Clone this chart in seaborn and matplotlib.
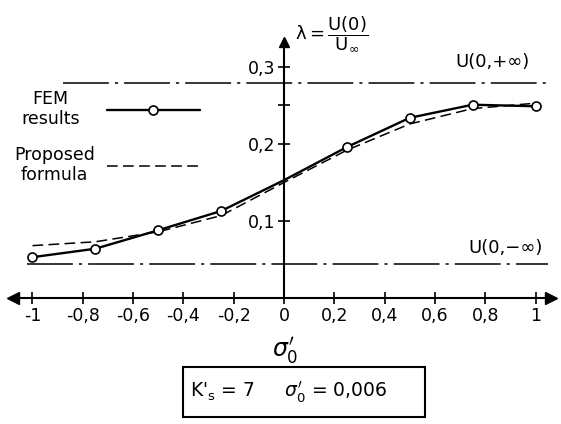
import matplotlib
matplotlib.use("Agg")
import matplotlib.pyplot as plt
from matplotlib.lines import Line2D
from matplotlib.patches import Rectangle
import pandas as pd
import seaborn as sns

# sigma'_0 along the x axis
sigma0 = [-1.0, -0.75, -0.5, -0.25, 0.0, 0.25, 0.5, 0.75, 1.0]
# lambda = U(0) / U_inf
fem_results = [0.053, 0.064, 0.088, 0.113, 0.153, 0.196, 0.234, 0.251, 0.249]
proposed_formula = [0.068, 0.073, 0.086, 0.107, 0.150, 0.192, 0.226, 0.246, 0.253]
# FEM points that carry a circle (none at sigma'_0 = 0)
fem_marked = [0, 1, 2, 3, 5, 6, 7, 8]

# asymptotic levels
u_plus_inf = 0.279
u_minus_inf = 0.044

x_ticks = [-1.0, -0.8, -0.6, -0.4, -0.2, 0.0, 0.2, 0.4, 0.6, 0.8, 1.0]
x_tick_labels = ["-1", "-0,8", "-0,6", "-0,4", "-0,2", "0", "0,2", "0,4", "0,6", "0,8", "1"]
y_ticks = [0.1, 0.2, 0.3]
y_tick_labels = ["0,1", "0,2", "0,3"]
y_minor_ticks = [0.25]

W, H = 561, 424  # figure size in pixels


def main():
    sns.set_style("white")
    plt.rcParams["font.family"] = ["DejaVu Sans"]
    plt.rcParams["mathtext.fontset"] = "dejavusans"
    plt.rcParams["axes.edgecolor"] = "black"
    plt.rcParams["xtick.color"] = "black"
    plt.rcParams["ytick.color"] = "black"
    plt.rcParams["text.color"] = "black"

    df = pd.DataFrame({
        "sigma0": sigma0,
        "FEM results": fem_results,
        "Proposed formula": proposed_formula,
    })

    fig = plt.figure(figsize=(W / 100, H / 100), dpi=100)
    ax = fig.add_axes([0.0131, 0.1882, 0.9863, 0.7991])
    ax.set_xlim(-1.1, 1.1)
    ax.set_ylim(-0.06, 0.38)

    # asymptotes
    dashdot = (0, (30, 4, 2, 4))
    ax.hlines(u_plus_inf, -0.88, 1.04, colors="black", linewidth=1.1, linestyles=[dashdot])
    ax.hlines(u_minus_inf, -1.02, 1.05, colors="black", linewidth=1.1, linestyles=[dashdot])

    sns.lineplot(data=df, x="sigma0", y="Proposed formula", ax=ax, color="black",
                 linewidth=1.1, linestyle=(0, (7, 3.5)), errorbar=None)
    sns.lineplot(data=df, x="sigma0", y="FEM results", ax=ax, color="black",
                 linewidth=1.7, marker="o", markevery=fem_marked, markersize=6.5,
                 markerfacecolor="white", markeredgecolor="black",
                 markeredgewidth=1.2, errorbar=None)
    ax.set_xlabel("")
    ax.set_ylabel("")

    # axes through the origin with arrows
    ax.spines["top"].set_visible(False)
    ax.spines["right"].set_visible(False)
    ax.spines["bottom"].set_position(("data", 0))
    ax.spines["left"].set_position(("data", 0))
    ax.spines["bottom"].set_bounds(-1.075, 1.06)
    ax.spines["left"].set_bounds(0, 0.33)
    ax.spines["bottom"].set_linewidth(1.5)
    ax.spines["left"].set_linewidth(1.5)
    ax.plot([1.062], [0], marker=">", color="black", markersize=8, clip_on=False)
    ax.plot([-1.078], [0], marker="<", color="black", markersize=8, clip_on=False)
    ax.plot([0], [0.333], marker="^", color="black", markersize=7, clip_on=False)

    ax.set_xticks(x_ticks, x_tick_labels)
    ax.set_yticks(y_ticks, y_tick_labels)
    ax.set_yticks(y_minor_ticks, minor=True)
    ax.tick_params(which="both", direction="inout", length=9, width=1.2,
                   labelsize=12.5, pad=2, bottom=True, left=True, top=False, right=False)

    # legends, text on the left of the sample
    fem_handle = Line2D([], [], color="black", linewidth=1.7, marker="o", markersize=6.5,
                        markerfacecolor="white", markeredgecolor="black", markeredgewidth=1.2)
    formula_handle = Line2D([], [], color="black", linewidth=1.1, linestyle=(0, (7, 3.5)))
    leg1 = ax.legend([fem_handle], ["FEM\nresults"], loc="center right",
                     bbox_to_anchor=(200 / W, 1 - 109 / H), bbox_transform=fig.transFigure,
                     frameon=False, markerfirst=False, handlelength=5.36, handletextpad=1.55,
                     borderpad=0, borderaxespad=0, fontsize=12.5)
    ax.add_artist(leg1)
    leg2 = ax.legend([formula_handle], ["Proposed\nformula"], loc="center right",
                     bbox_to_anchor=(198 / W, 1 - 165 / H), bbox_transform=fig.transFigure,
                     frameon=False, markerfirst=False, handlelength=5.24, handletextpad=0.69,
                     borderpad=0, borderaxespad=0, fontsize=12.5)
    for leg in (leg1, leg2):
        for t in leg.get_texts():
            t.set_multialignment("center")

    # labels
    ax.text(0.827, 0.306, "U(0,+∞)", ha="center", va="center", fontsize=13)
    ax.text(0.879, 0.065, "U(0,−∞)", ha="center", va="center", fontsize=13)
    ax.text(0.044, 0.343, r"$\mathrm{\lambda} = \dfrac{\mathrm{U(0)}}{\mathrm{U}_{\infty}}$",
            ha="left", va="center", fontsize=13)
    ax.text(0.004, -0.068, r"$\sigma_0'$", ha="center", va="center", fontsize=17)

    # parameter box
    fig.add_artist(Rectangle((183 / W, 1 - 417 / H), 242 / W, 50 / H, transform=fig.transFigure,
                             fill=False, edgecolor="black", linewidth=1.5))
    fig.text(190 / W, 1 - 397 / H, r"K$'_{\mathrm{s}}$ = 7     $\sigma_0'$ = 0,006",
             ha="left", va="baseline", fontsize=13.5)

    fig.savefig("out.png", dpi=100)
    plt.close(fig)


if __name__ == "__main__":
    main()
